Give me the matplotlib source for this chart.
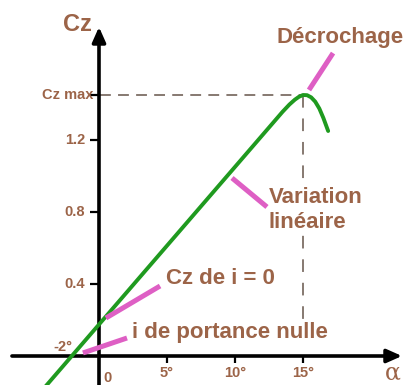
import matplotlib
matplotlib.use("Agg")
import matplotlib.pyplot as plt

# Lift coefficient curve: Cz against angle of attack (degrees)
alpha = [-4.0, 13.5, 14.0, 14.4, 14.7, 15.0, 15.3, 15.6, 15.9, 16.2, 16.5, 16.85]
cz = [-0.175, 1.357, 1.397, 1.424, 1.44, 1.45, 1.449, 1.437, 1.413, 1.375, 1.322, 1.25]

cz_max = 1.45
alpha_stall = 15.0
alpha_zero_lift = -2.0
cz_at_zero = 0.175

y_ticks = [0.4, 0.8, 1.2]
y_tick_labels = ["0.4", "0.8", "1.2"]
x_ticks = [5, 10, 15]
x_tick_labels = ["5°", "10°", "15°"]

BROWN = "#9c6448"
PINK = "#de5fc4"
GREEN = "#1f9a1f"
DASH = "#7d6e66"

plt.rcParams["font.family"] = ["Liberation Sans", "DejaVu Sans"]

fig = plt.figure(figsize=(4.10, 3.85), dpi=100)
ax = fig.add_axes([0, 0, 1, 1])
ax.set_xlim(-7.279, 22.868)
ax.set_ylim(-0.1611, 1.9778)
ax.axis("off")

# axes with arrow heads
ax.annotate("", xy=(0, 1.828), xytext=(0, -0.1611),
            arrowprops=dict(arrowstyle="-|>,head_length=0.9,head_width=0.4",
                            color="black", lw=2.6, shrinkA=0, shrinkB=0))
ax.annotate("", xy=(22.28, 0), xytext=(-6.4, 0),
            arrowprops=dict(arrowstyle="-|>,head_length=0.9,head_width=0.4",
                            color="black", lw=2.6, shrinkA=0, shrinkB=0))

# tick marks
for t in y_ticks:
    ax.plot([-0.66, 0], [t, t], color="black", lw=1.6, solid_capstyle="butt")
ax.plot([-0.66, 0], [cz_max, cz_max], color="black", lw=1.6, solid_capstyle="butt")
for t in x_ticks:
    ax.plot([t, t], [0, -0.039], color="black", lw=1.6, solid_capstyle="butt")

# guide lines to the stall point
ax.plot([0.1, alpha_stall], [cz_max, cz_max], color=DASH, lw=1.3,
        dashes=(6, 4), zorder=1)
ax.plot([alpha_stall, alpha_stall], [cz_max, 0.06], color=DASH, lw=1.3,
        dashes=(7, 6), zorder=1)

# lift curve
ax.plot(alpha, cz, color=GREEN, lw=2.8, solid_capstyle="round",
        solid_joinstyle="round", zorder=3)

# leader lines
lead = dict(color=PINK, lw=3.6, solid_capstyle="butt", zorder=4)
ax.plot([15.44, 17.21], [1.478, 1.683], **lead)
ax.plot([9.78, 12.35], [0.989, 0.828], **lead)
ax.plot([0.51, 4.49], [cz_at_zero + 0.036, 0.389], **lead)
ax.plot([alpha_zero_lift + 0.82, 2.06], [0.017, 0.10], **lead)

# annotations
box = dict(boxstyle="square,pad=0.05", facecolor="white", edgecolor="none")
big = dict(color=BROWN, fontweight="bold", fontsize=16, bbox=box, zorder=2)
ax.text(17.72, 1.772, "Décrochage", ha="center", va="center", **big)
ax.text(12.5, 0.883, "Variation", ha="left", va="center", **big)
ax.text(12.5, 0.739, "linéaire", ha="left", va="center", **big)
ax.text(4.93, 0.433, "Cz de i = 0", ha="left", va="center", **big)
ax.text(2.43, 0.133, "i de portance nulle", ha="left", va="center", **big)

ax.text(-1.62, 1.844, "Cz", ha="center", va="center", color=BROWN,
        fontweight="bold", fontsize=17)
ax.text(21.62, -0.094, "α", ha="center", va="center", color=BROWN,
        fontsize=17, family=["DejaVu Serif"])

small = dict(color=BROWN, fontweight="bold", fontsize=10.5)
for t, lab in zip(y_ticks, y_tick_labels):
    ax.text(-1.03, t, lab, ha="right", va="center", **small)
ax.text(-0.44, cz_max, "Cz max", ha="right", va="center", **small)
ax.text(-2.65, 0.05, "-2°", ha="center", va="center", **small)
ax.text(0.66, -0.122, "0", ha="center", va="center", **small)
for t, lab in zip(x_ticks, x_tick_labels):
    ax.text(t, -0.094, lab, ha="center", va="center", **small)

fig.savefig("out.png", dpi=100)
